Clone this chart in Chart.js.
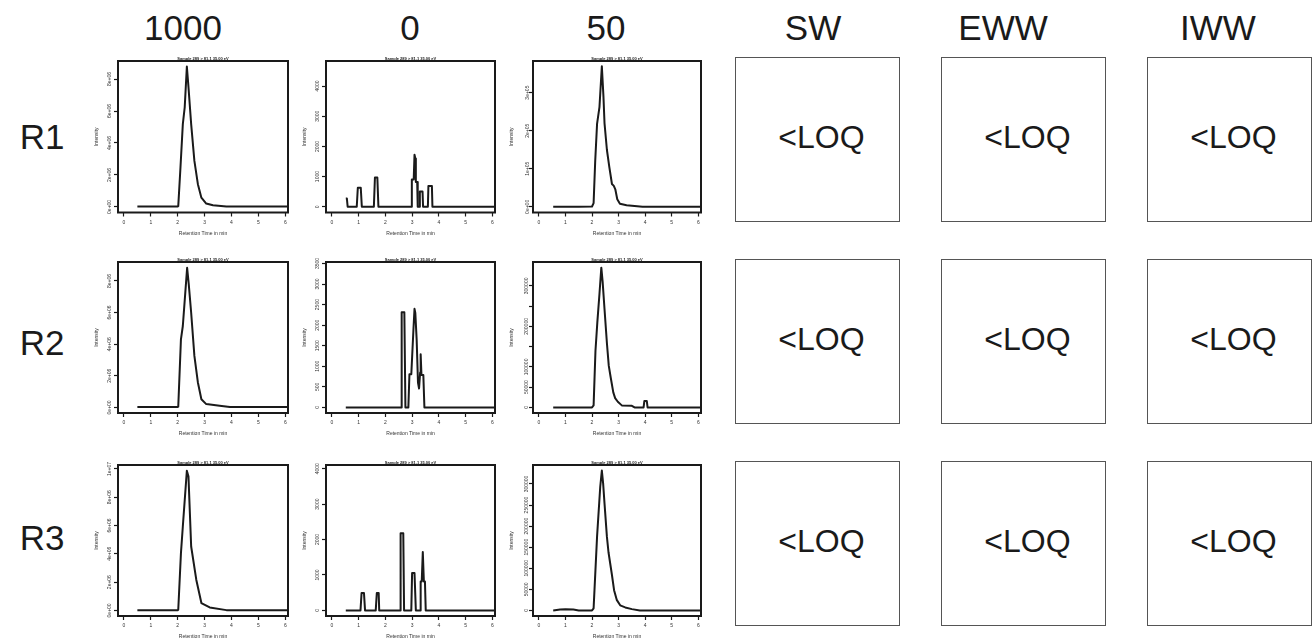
<!DOCTYPE html>
<html>
<head>
<meta charset="utf-8">
<script src="https://cdn.jsdelivr.net/npm/chart.js@4.4.1/dist/chart.umd.min.js"></script>
<style>
  body { margin: 0; width: 1314px; height: 639px; position: relative; overflow: hidden; background: #fff;
         font-family: 'Liberation Sans', Arial, sans-serif; color: #1a1a1a; }
  .lbl { position: absolute; font-size: 35px; line-height: 35px; white-space: nowrap; transform: translateX(-50%); }
  .box { position: absolute; border: 1.3px solid #555; box-sizing: border-box; display: flex;
         align-items: center; justify-content: center; font-size: 32px; padding: 0 0 5px 8px; }
  canvas { position: absolute; }
</style>
</head>
<body>
<script>
// column headers / row labels
const colHeads = ['1000', '0', '50', 'SW', 'EWW', 'IWW'];
const rowHeads = ['R1', 'R2', 'R3'];
const loqText = '<LOQ';

// retention time axis
const xTicks = [0, 1, 2, 3, 4, 5, 6];

// --- column "1000" (intensity in counts) ---
const tR1_1000 = [0.5, 1.0, 1.5, 2.0, 2.02, 2.1, 2.19, 2.26, 2.34, 2.4, 2.5, 2.62, 2.75, 2.88, 3.06, 3.31, 3.81, 4.5, 5.0, 5.5, 6.1];
const iR1_1000 = [2e4, 2e4, 2e4, 2e4, 5e4, 2.4e6, 5.18e6, 6.23e6, 8.78e6, 7.5e6, 5.18e6, 2.88e6, 1.42e6, 5.8e5, 2.1e5, 1.0e5, 2e4, 2e4, 2e4, 2e4, 2e4];
const tR2_1000 = [0.5, 1.0, 1.5, 2.0, 2.02, 2.12, 2.19, 2.35, 2.41, 2.5, 2.62, 2.75, 2.88, 3.06, 3.56, 3.94, 4.5, 5.0, 5.5, 6.1];
const iR2_1000 = [2e4, 2e4, 2e4, 2e4, 5e4, 4.31e6, 5.15e6, 8.83e6, 7.8e6, 5.99e6, 3.26e6, 1.58e6, 5.2e5, 2.1e5, 1.0e5, 2e4, 2e4, 2e4, 2e4, 2e4];
const tR3_1000 = [0.5, 1.0, 1.5, 2.0, 2.02, 2.12, 2.19, 2.34, 2.4, 2.5, 2.69, 2.88, 3.19, 3.81, 4.5, 5.0, 5.5, 6.1];
const iR3_1000 = [2e4, 2e4, 2e4, 2e4, 5e4, 4.05e6, 5.93e6, 9.88e6, 9.46e6, 4.52e6, 2.17e6, 5.2e5, 2.1e5, 2e4, 2e4, 2e4, 2e4, 2e4];

// --- column "0" ---
const tR1_0 = [0.52, 0.56, 0.59, 0.93, 0.97, 1.08, 1.12, 1.57, 1.61, 1.7, 1.74, 2.96, 2.99, 3.06, 3.09, 3.12, 3.14, 3.19, 3.21, 3.26, 3.29, 3.39, 3.41, 3.59, 3.61, 3.74, 3.76, 6.1];
const iR1_0 = [277, 277, 0, 0, 629, 629, 0, 0, 969, 969, 0, 0, 906, 906, 1723, 1600, 818, 818, 0, 0, 503, 503, 0, 0, 692, 692, 0, 0];
const tR2_0 = [0.52, 2.59, 2.61, 2.71, 2.75, 2.86, 2.9, 2.97, 3.05, 3.09, 3.12, 3.17, 3.22, 3.26, 3.3, 3.32, 3.35, 3.42, 3.46, 6.1];
const iR2_0 = [0, 0, 2315, 2315, 0, 0, 806, 806, 1896, 2397, 2300, 1654, 605, 460, 847, 1290, 790, 790, 0, 0];
const tR3_0 = [0.52, 1.07, 1.11, 1.2, 1.24, 1.64, 1.68, 1.75, 1.77, 2.55, 2.57, 2.67, 2.7, 2.97, 3.0, 3.09, 3.14, 3.3, 3.32, 3.36, 3.4, 3.44, 3.48, 3.51, 6.1];
const iR3_0 = [0, 0, 490, 490, 0, 0, 490, 490, 0, 0, 2180, 2180, 0, 0, 1053, 1053, 0, 0, 817, 817, 1645, 817, 817, 0, 0];

// --- column "50" ---
const tR1_50 = [0.54, 1.0, 1.5, 2.0, 2.06, 2.12, 2.19, 2.28, 2.37, 2.43, 2.47, 2.56, 2.65, 2.75, 2.82, 2.88, 2.95, 3.05, 3.3, 3.6, 3.9, 4.5, 5.0, 6.1];
const iR1_50 = [0, 0, 0, 1000, 10000, 120000, 218000, 262000, 369000, 290000, 220000, 150000, 105000, 60000, 55000, 45000, 20000, 8000, 4000, 2000, 0, 0, 0, 0];
const tR2_50 = [0.54, 1.0, 1.5, 2.0, 2.06, 2.13, 2.2, 2.28, 2.35, 2.4, 2.47, 2.56, 2.63, 2.7, 2.8, 2.87, 2.97, 3.12, 3.5, 3.6, 3.94, 3.97, 4.06, 4.09, 4.5, 5.0, 6.1];
const iR2_50 = [0, 0, 0, 0, 5000, 140000, 210000, 280000, 345000, 310000, 243000, 159000, 103000, 75000, 37000, 23000, 14000, 5000, 4000, 0, 0, 16000, 16000, 0, 0, 0, 0];
const tR3_50 = [0.54, 0.8, 1.0, 1.3, 1.5, 2.0, 2.06, 2.19, 2.31, 2.37, 2.42, 2.47, 2.56, 2.62, 2.75, 2.83, 2.93, 3.06, 3.25, 3.5, 3.8, 4.5, 6.1];
const iR3_50 = [0, 2000, 3000, 2000, 0, 0, 5000, 175000, 294000, 332000, 300000, 254000, 175000, 138000, 84000, 48000, 25000, 12000, 7000, 3000, 0, 0, 0];

// y tick values and labels
const yv1000a = [0, 2e6, 4e6, 6e6, 8e6];
const yl1000a = ['0e+00', '2e+06', '4e+06', '6e+06', '8e+06'];
const yv1000b = [0, 2e6, 4e6, 6e6, 8e6, 1e7];
const yl1000b = ['0e+00', '2e+06', '4e+06', '6e+06', '8e+06', '1e+07'];
const yv0a = [0, 1000, 2000, 3000, 4000];
const yl0a = ['0', '1000', '2000', '3000', '4000'];
const yv0b = [0, 500, 1000, 1500, 2000, 2500, 3000, 3500];
const yl0b = ['0', '500', '1000', '1500', '2000', '2500', '3000', '3500'];
const yv50a = [0, 1e5, 2e5, 3e5];
const yl50a = ['0e+00', '1e+05', '2e+05', '3e+05'];
const yv50b = [0, 50000, 100000, 150000, 200000, 250000, 300000];
const yl50b = ['0', '50000', '100000', '', '200000', '', '300000'];
const yl50c = ['0', '50000', '100000', '150000', '200000', '250000', '300000'];

const panelTitle = 'Sample 289 > 81.1 35.00 eV';

// layout of the grid
const colLeft = [118, 326, 533];
const colW = [170, 169, 168];
const colYPad = [-3, -1, -6];
const rowTop = [60.5, 262.3, 465];
const rowH = [151.5, 151, 151];
const boxLeft = [735, 941, 1147];
const boxTop = [57, 259, 461];
const boxW = 165, boxH = 165;

const panels = [
  { r: 0, c: 0, t: tR1_1000, v: iR1_1000, yv: yv1000a, yl: yl1000a, min: -3.5e5, max: 9.13e6 },
  { r: 0, c: 1, t: tR1_0, v: iR1_0, yv: yv0a, yl: yl0a, min: -190, max: 4830 },
  { r: 0, c: 2, t: tR1_50, v: iR1_50, yv: yv50a, yl: yl50a, min: -14800, max: 383000 },
  { r: 1, c: 0, t: tR2_1000, v: iR2_1000, yv: yv1000a, yl: yl1000a, min: -3.54e5, max: 9.2e6 },
  { r: 1, c: 1, t: tR2_0, v: iR2_0, yv: yv0b, yl: yl0b, min: -136, max: 3536 },
  { r: 1, c: 2, t: tR2_50, v: iR2_50, yv: yv50b, yl: yl50b, min: -13800, max: 359000 },
  { r: 2, c: 0, t: tR3_1000, v: iR3_1000, yv: yv1000b, yl: yl1000b, min: -3.95e5, max: 1.028e7 },
  { r: 2, c: 1, t: tR3_0, v: iR3_0, yv: yv0a, yl: yl0a, min: -158, max: 4104 },
  { r: 2, c: 2, t: tR3_50, v: iR3_50, yv: yv50b, yl: yl50c, min: -13300, max: 345000 }
];

const FONT = "'Liberation Sans', Arial, sans-serif";
const INK = '#1a1a1a';

// box around the plot area, R style
const frame = {
  id: 'frame',
  afterDraw(chart) {
    const a = chart.chartArea, ctx = chart.ctx;
    ctx.save();
    ctx.lineWidth = 2;
    ctx.strokeStyle = INK;
    ctx.strokeRect(a.left, a.top, a.right - a.left, a.bottom - a.top);
    ctx.restore();
  }
};

function addText(cls, text, left, top) {
  const d = document.createElement('div');
  d.className = cls;
  d.textContent = text;
  d.style.left = left + 'px';
  d.style.top = top + 'px';
  document.body.appendChild(d);
}

const headX = [183, 410, 606, 813, 1003, 1218];
colHeads.forEach((h, i) => addText('lbl', h, headX[i], 10));
const rowLabelY = [119, 325, 520];
rowHeads.forEach((h, i) => addText('lbl', h, 42, rowLabelY[i]));

// <LOQ boxes
for (let r = 0; r < 3; r++) {
  for (let c = 0; c < 3; c++) {
    const d = document.createElement('div');
    d.className = 'box';
    d.textContent = loqText;
    d.style.left = boxLeft[c] + 'px';
    d.style.top = boxTop[r] + 'px';
    d.style.width = boxW + 'px';
    d.style.height = boxH + 'px';
    document.body.appendChild(d);
  }
}

function drawPanel(p) {
  const left = colLeft[p.c], top = rowTop[p.r], w = colW[p.c], h = rowH[p.r];
  const W = Math.round(w + 28), H = Math.round(h + 32);
  const cv = document.createElement('canvas');
  cv.width = W; cv.height = H;
  cv.style.left = (left - 24) + 'px';
  cv.style.top = (top - 6) + 'px';
  cv.style.width = W + 'px';
  cv.style.height = H + 'px';
  document.body.appendChild(cv);

  new Chart(cv, {
    type: 'line',
    data: {
      datasets: [{
        data: p.t.map((x, i) => ({ x: x, y: p.v[i] })),
        borderColor: INK,
        borderWidth: 2,
        borderJoinStyle: 'round',
        pointRadius: 0,
        tension: 0,
        fill: false
      }]
    },
    options: {
      responsive: false,
      animation: false,
      devicePixelRatio: 1,
      layout: { padding: { top: 0.2, right: W - 24 - w, left: 0, bottom: 0 } },
      plugins: {
        legend: { display: false },
        tooltip: { enabled: false },
        title: {
          display: true, text: panelTitle, fullSize: false, color: '#222',
          font: { family: FONT, size: 4, weight: 'bold' }, padding: { top: 1, bottom: 0 }
        }
      },
      scales: {
        x: {
          type: 'linear', min: -0.22, max: 6.1,
          afterBuildTicks: s => { s.ticks = xTicks.map(v => ({ value: v })); },
          afterFit: s => { s.height = H - h - 6; s.paddingLeft = 0; s.paddingRight = 0; },
          grid: { display: true, drawOnChartArea: false, drawTicks: true, tickLength: 4, tickWidth: 1.2, tickColor: INK },
          border: { display: false },
          ticks: { font: { family: FONT, size: 5 }, color: '#333', padding: 3, maxRotation: 0, autoSkip: false },
          title: { display: true, text: 'Retention Time in min', color: '#333', font: { family: FONT, size: 5 }, padding: { top: 0, bottom: 2 } }
        },
        y: {
          min: p.min, max: p.max,
          afterBuildTicks: s => { s.ticks = p.yv.map(v => ({ value: v })); },
          afterFit: s => { s.width = 24; s.paddingTop = 0; s.paddingBottom = 0; },
          grid: { display: true, drawOnChartArea: false, drawTicks: true, tickLength: 4, tickWidth: 1.2, tickColor: INK },
          border: { display: false },
          ticks: {
            font: { family: FONT, size: 5 }, color: '#333', minRotation: 90, maxRotation: 90,
            crossAlign: 'center', padding: colYPad[p.c], autoSkip: false,
            callback: (v, i) => p.yl[i]
          },
          title: { display: true, text: 'Intensity', color: '#333', font: { family: FONT, size: 5 }, padding: { top: 0, bottom: 0 } }
        }
      }
    },
    plugins: [frame]
  });
}

panels.forEach(drawPanel);
</script>
</body>
</html>
